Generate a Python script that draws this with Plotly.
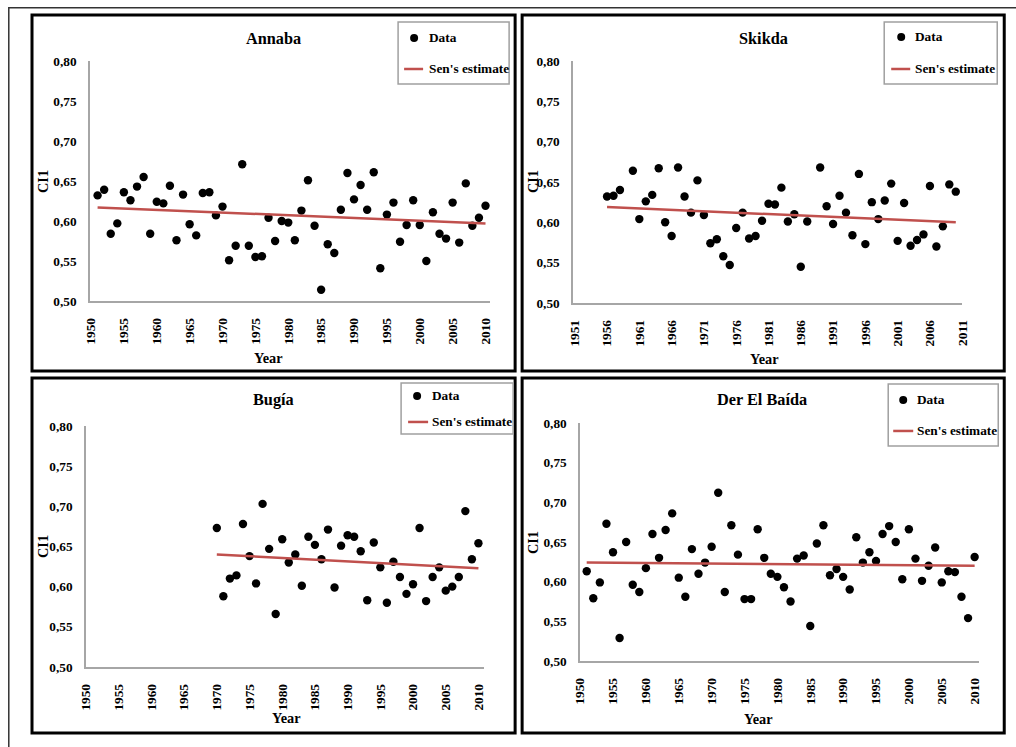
import plotly.graph_objects as go

# ---- Annaba ----
annaba_years = [1951, 1952, 1953, 1954, 1955, 1956, 1957, 1958, 1959, 1960,
                1961, 1962, 1963, 1964, 1965, 1966, 1967, 1968, 1969, 1970,
                1971, 1972, 1973, 1974, 1975, 1976, 1977, 1978, 1979, 1980,
                1981, 1982, 1983, 1984, 1985, 1986, 1987, 1988, 1989, 1990,
                1991, 1992, 1993, 1994, 1995, 1996, 1997, 1998, 1999, 2000,
                2001, 2002, 2003, 2004, 2005, 2006, 2007, 2008, 2009, 2010]
annaba_ci1 = [0.632, 0.639, 0.584, 0.597, 0.636, 0.626, 0.643, 0.655, 0.584, 0.624,
              0.622, 0.644, 0.576, 0.633, 0.596, 0.582, 0.635, 0.636, 0.607, 0.618,
              0.551, 0.569, 0.671, 0.569, 0.555, 0.556, 0.604, 0.575, 0.600, 0.598,
              0.576, 0.613, 0.651, 0.594, 0.514, 0.571, 0.560, 0.614, 0.660, 0.627,
              0.645, 0.614, 0.661, 0.541, 0.608, 0.623, 0.574, 0.595, 0.626, 0.595,
              0.550, 0.611, 0.584, 0.578, 0.623, 0.573, 0.647, 0.594, 0.604, 0.619]
annaba_sen_years = [1951, 2010]
annaba_sen = [0.617, 0.597]

# ---- Skikda ----
skikda_years = [1956, 1957, 1958, 1960, 1961, 1962, 1963, 1964, 1965, 1966,
                1967, 1968, 1969, 1970, 1971, 1972, 1973, 1974, 1975, 1976,
                1977, 1978, 1979, 1980, 1981, 1982, 1983, 1984, 1985, 1986,
                1987, 1989, 1990, 1991, 1992, 1993, 1994, 1995, 1996, 1997,
                1998, 1999, 2000, 2001, 2002, 2003, 2004, 2005, 2006, 2007,
                2008, 2009, 2010]
skikda_ci1 = [0.632, 0.633, 0.640, 0.664, 0.604, 0.626, 0.634, 0.667, 0.600, 0.583,
              0.668, 0.632, 0.612, 0.652, 0.609, 0.574, 0.579, 0.558, 0.547, 0.593,
              0.612, 0.580, 0.583, 0.602, 0.623, 0.622, 0.643, 0.601, 0.610, 0.545,
              0.601, 0.668, 0.620, 0.598, 0.633, 0.612, 0.584, 0.660, 0.573, 0.625,
              0.604, 0.627, 0.648, 0.577, 0.624, 0.571, 0.578, 0.585, 0.645, 0.570,
              0.595, 0.647, 0.638]
skikda_sen_years = [1956, 2010]
skikda_sen = [0.619, 0.600]

# ---- Bugía ----
bugia_years = [1970, 1971, 1972, 1973, 1974, 1975, 1976, 1977, 1978, 1979,
               1980, 1981, 1982, 1983, 1984, 1985, 1986, 1987, 1988, 1989,
               1990, 1991, 1992, 1993, 1994, 1995, 1996, 1997, 1998, 1999,
               2000, 2001, 2002, 2003, 2004, 2005, 2006, 2007, 2008, 2009, 2010]
bugia_ci1 = [0.673, 0.588, 0.610, 0.614, 0.678, 0.638, 0.604, 0.703, 0.647, 0.566,
             0.659, 0.630, 0.640, 0.601, 0.662, 0.652, 0.634, 0.671, 0.599, 0.651,
             0.664, 0.662, 0.644, 0.583, 0.655, 0.624, 0.580, 0.631, 0.612, 0.591,
             0.603, 0.673, 0.582, 0.612, 0.624, 0.595, 0.600, 0.612, 0.694, 0.634,
             0.654]
bugia_sen_years = [1970, 2010]
bugia_sen = [0.640, 0.623]

# ---- Der El Baída ----
derelbaida_years = [1951, 1952, 1953, 1954, 1955, 1956, 1957, 1958, 1959, 1960,
                    1961, 1962, 1963, 1964, 1965, 1966, 1967, 1968, 1969, 1970,
                    1971, 1972, 1973, 1974, 1975, 1976, 1977, 1978, 1979, 1980,
                    1981, 1982, 1983, 1984, 1985, 1986, 1987, 1988, 1989, 1990,
                    1991, 1992, 1993, 1994, 1995, 1996, 1997, 1998, 1999, 2000,
                    2001, 2002, 2003, 2004, 2005, 2006, 2007, 2008, 2009, 2010]
derelbaida_ci1 = [0.613, 0.579, 0.599, 0.673, 0.637, 0.529, 0.650, 0.596, 0.587, 0.617,
                  0.660, 0.630, 0.665, 0.686, 0.605, 0.581, 0.641, 0.610, 0.624, 0.644,
                  0.712, 0.587, 0.671, 0.634, 0.578, 0.578, 0.666, 0.630, 0.610, 0.606,
                  0.593, 0.575, 0.629, 0.633, 0.544, 0.648, 0.671, 0.608, 0.616, 0.606,
                  0.590, 0.656, 0.624, 0.637, 0.626, 0.660, 0.670, 0.650, 0.603, 0.666,
                  0.629, 0.601, 0.620, 0.643, 0.599, 0.613, 0.612, 0.581, 0.554, 0.631]
derelbaida_sen_years = [1951, 2010]
derelbaida_sen = [0.624, 0.620]

# Tick labels
years_a = [1950, 1955, 1960, 1965, 1970, 1975, 1980, 1985, 1990, 1995, 2000, 2005, 2010]
years_b = [1951, 1956, 1961, 1966, 1971, 1976, 1981, 1986, 1991, 1996, 2001, 2006, 2011]
ci1_ticks = [0.50, 0.55, 0.60, 0.65, 0.70, 0.75, 0.80]

W, H = 1016, 747
# Layout is specified in sheet pixels; the sheet sits inside the page's
# 8px body margin and is drawn slightly reduced so it fits the window.
OFFSET = 8
SX, SY = 0.985, 0.980
FONT = "Liberation Serif, Times New Roman, serif"
RED = "#C0504D"
AXIS_GRAY = "#a6a6a6"
LEGEND_GRAY = "#a0a0a0"


def px_x(v):
    return (v - OFFSET) / SX / W


def px_y(v):
    return 1 - (v - OFFSET) / SY / H


def fs(size):
    return round(size / SY, 1)


def bold(size):
    return dict(family=FONT, size=fs(size), color="black", weight="bold")


# Sheet-pixel geometry of each panel: plot area, frame, labels and legend box
panels = [
    dict(name="Annaba", years=annaba_years, ci1=annaba_ci1,
         sen_x=annaba_sen_years, sen_y=annaba_sen, xticks=years_a,
         plot=(90, 490, 62, 302), xrange=(1949.85, 2010.7),
         frame=(32, 515, 16, 372), title=(273, 40), year=(268, 359), ci=(43, 183),
         legend=dict(box=(398, 509, 23, 85), dot=(414, 39), line=(404, 423, 70),
                     text_x=427)),
    dict(name="Skikda", years=skikda_years, ci1=skikda_ci1,
         sen_x=skikda_sen_years, sen_y=skikda_sen, xticks=years_b,
         plot=(573, 962, 62, 304), xrange=(1950.75, 2011.0),
         frame=(522, 1004, 16, 372), title=(763, 40), year=(764, 360), ci=(533, 183),
         legend=dict(box=(884, 997, 23, 85), dot=(901, 38), line=(891, 910, 70),
                     text_x=913)),
    dict(name="Bugía", years=bugia_years, ci1=bugia_ci1,
         sen_x=bugia_sen_years, sen_y=bugia_sen, xticks=years_a,
         plot=(86, 484, 427, 668), xrange=(1950.0, 2010.87),
         frame=(32, 515, 379, 734), title=(273, 401), year=(286, 719), ci=(43, 548),
         legend=dict(box=(401, 513, 384, 435), dot=(417, 397), line=(408, 428, 423),
                     text_x=430)),
    dict(name="Der El Baída", years=derelbaida_years, ci1=derelbaida_ci1,
         sen_x=derelbaida_sen_years, sen_y=derelbaida_sen, xticks=years_a,
         plot=(580, 979, 424, 662), xrange=(1950.0, 2010.7),
         frame=(522, 1004, 379, 734), title=(762, 401), year=(758, 720), ci=(533, 544),
         legend=dict(box=(888, 998, 385, 447), dot=(903, 401), line=(893, 913, 432),
                     text_x=915)),
]

fig = go.Figure()
layout_extra = {}
annotations = []
shapes = []

# Outer sheet frame along the top and left edges
shapes.append(dict(type="rect", xref="paper", yref="paper",
                   x0=0.8 / W, x1=px_x(1040), y0=px_y(780), y1=1 - 0.8 / H,
                   line=dict(color="#333333", width=1.5), layer="below"))


def text(label, x, y, size, anchor="center", angle=0):
    return dict(text=label, x=px_x(x), y=px_y(y), xref="paper", yref="paper",
                showarrow=False, xanchor=anchor, yanchor="middle",
                textangle=angle, font=bold(size))


for i, p in enumerate(panels, start=1):
    sfx = "" if i == 1 else str(i)
    xa, ya = "x" + sfx, "y" + sfx

    fig.add_trace(go.Scatter(
        x=p["years"], y=p["ci1"], mode="markers", name="Data",
        marker=dict(color="black", size=8.4), showlegend=False,
        xaxis=xa, yaxis=ya))
    fig.add_trace(go.Scatter(
        x=p["sen_x"], y=p["sen_y"], mode="lines", name="Sen's estimate",
        line=dict(color=RED, width=2.5), showlegend=False,
        xaxis=xa, yaxis=ya))

    x0, x1, y0, y1 = p["plot"]
    layout_extra["xaxis" + sfx] = dict(
        domain=[px_x(x0), px_x(x1)], anchor=ya, range=list(p["xrange"]),
        tickvals=p["xticks"], ticktext=[str(t) for t in p["xticks"]],
        tickangle=-90, showgrid=False, zeroline=False,
        showline=True, linecolor=AXIS_GRAY, linewidth=1.5, ticks="",
        ticklabelstandoff=10, tickfont=bold(13))
    layout_extra["yaxis" + sfx] = dict(
        domain=[px_y(y1), px_y(y0)], anchor=xa, range=[0.5, 0.8],
        tickvals=ci1_ticks, tickformat=".2f", showgrid=False, zeroline=False,
        showline=True, linecolor=AXIS_GRAY, linewidth=1.5, ticks="",
        ticklabelstandoff=9, tickfont=bold(13))

    # Panel frame
    fx0, fx1, fy0, fy1 = p["frame"]
    shapes.append(dict(type="rect", xref="paper", yref="paper",
                       x0=px_x(fx0), x1=px_x(fx1), y0=px_y(fy1), y1=px_y(fy0),
                       line=dict(color="black", width=3)))

    # Legend box with a dot key and a line key
    lg = p["legend"]
    bx0, bx1, by0, by1 = lg["box"]
    shapes.append(dict(type="rect", xref="paper", yref="paper",
                       x0=px_x(bx0), x1=px_x(bx1), y0=px_y(by1), y1=px_y(by0),
                       fillcolor="white", line=dict(color=LEGEND_GRAY, width=1.5)))
    dx, dy = lg["dot"]
    shapes.append(dict(type="circle", xref="paper", yref="paper",
                       x0=px_x(dx - 4), x1=px_x(dx + 4),
                       y0=px_y(dy + 4), y1=px_y(dy - 4),
                       fillcolor="black", line=dict(color="black", width=0)))
    lx0, lx1, ly = lg["line"]
    shapes.append(dict(type="line", xref="paper", yref="paper",
                       x0=px_x(lx0), x1=px_x(lx1), y0=px_y(ly), y1=px_y(ly),
                       line=dict(color=RED, width=2.5)))
    annotations.append(text("Data", lg["text_x"], dy, 13, anchor="left"))
    annotations.append(text("Sen's estimate", lg["text_x"], ly, 13, anchor="left"))

    tx, ty = p["title"]
    annotations.append(text(p["name"], tx, ty, 16))
    yx, yy = p["year"]
    annotations.append(text("Year", yx, yy, 14))
    cx, cy = p["ci"]
    annotations.append(text("CI1", cx, cy, 14, angle=-90))

fig.update_layout(
    width=W, height=H, margin=dict(l=0, r=0, t=0, b=0),
    paper_bgcolor="white", plot_bgcolor="white",
    separators=",.", showlegend=False,
    annotations=annotations, shapes=shapes,
    **layout_extra)

fig.write_html("out.html")
